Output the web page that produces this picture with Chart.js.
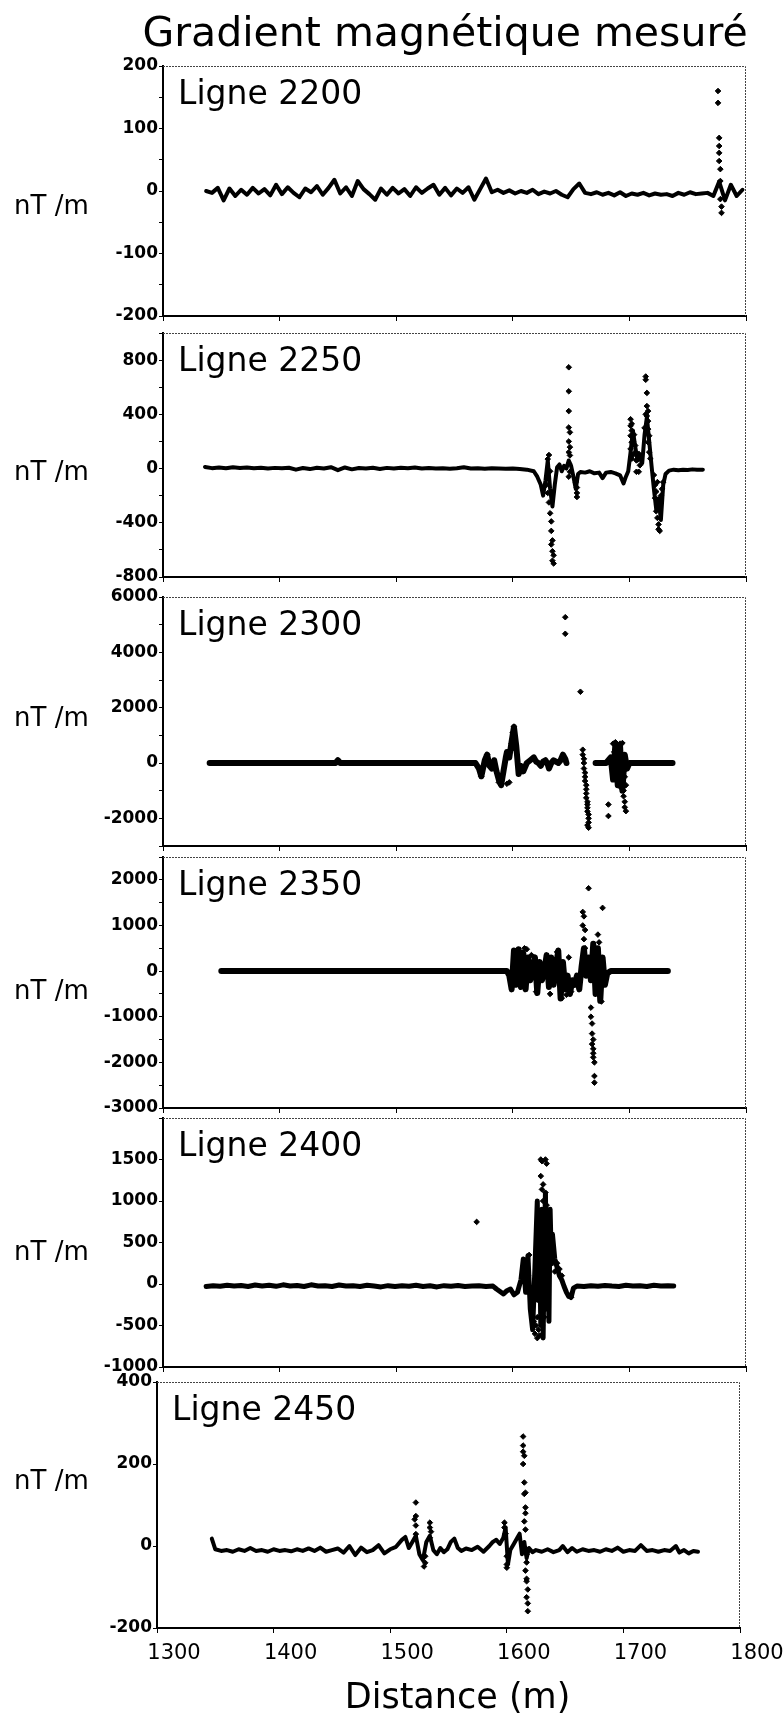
<!DOCTYPE html>
<html>
<head>
<meta charset="utf-8">
<script src="https://cdn.jsdelivr.net/npm/chart.js@4.4.0/dist/chart.umd.min.js"></script>
<style>
  body { margin: 0; background: #fff; width: 783px; height: 1718px; position: relative; overflow: hidden; }
  .panneau { position: absolute; left: 0; width: 783px; }
</style>
</head>
<body>
<script>
// textes
var titre = "Gradient magnétique mesuré";
var unite = "nT /m";
var titreX = "Distance (m)";
var lignes = ["Ligne 2200", "Ligne 2250", "Ligne 2300", "Ligne 2350", "Ligne 2400", "Ligne 2450"];

// axes
var xMin = 1300, xMax = 1800, xPas = 100;
var yMin = [-200, -800, -3000, -3000, -1000, -200];
var yMax = [200, 1000, 6000, 2500, 2000, 400];
var yPas = [50, 200, 1000, 500, 500, 200];
var yPasLabel = [100, 400, 2000, 1000, 500, 200];
var yLabelMax = [200, 800, 6000, 2000, 1500, 400];

// Ligne 2200 : trace + points isolés
var x2200 = [1337,1342,1347,1352,1357,1362,1367,1372,1377,1382,1387,1392,1397,1402,1407,1412,1417,1422,1427,1432,1437,1442,1447,1452,1457,1462,1467,1472,1477,1482,1487,1492,1497,1502,1507,1512,1517,1522,1527,1532,1537,1542,1547,1552,1557,1562,1567,1572,1577,1582,1587,1592,1597,1602,1607,1612,1617,1622,1627,1632,1637,1642,1647,1652,1657,1662,1667,1672,1677,1682,1687,1692,1697,1702,1707,1712,1717,1722,1727,1732,1737,1742,1747,1752,1757,1762,1767,1772,1777,1782,1787,1792,1797];
var y2200 = [0,-3,5,-15,4,-8,2,-6,5,-4,3,-7,10,-5,6,-3,-10,4,-2,8,-6,5,18,-4,6,-8,16,3,-5,-14,4,-6,5,-4,3,-8,6,-3,4,10,-6,5,-7,4,-3,6,-14,3,20,-2,2,-3,1,-4,0,-3,2,-5,-1,-4,0,-6,-10,3,12,-3,-5,-2,-6,-3,-7,-2,-8,-4,-6,-3,-7,-4,-6,-5,-8,-3,-6,-2,-5,-4,-3,-8,15,-15,10,-8,2];
var px2200 = [1776,1776,1777,1777,1777,1777,1778,1778,1778,1779,1779];
var py2200 = [160,141,85,72,61,48,35,16,-13,-25,-35];

// Ligne 2250
var x2250 = [1336,1342,1348,1354,1360,1366,1372,1378,1384,1390,1396,1402,1408,1414,1420,1426,1432,1438,1444,1450,1456,1462,1468,1474,1480,1486,1492,1498,1504,1510,1516,1522,1528,1534,1540,1546,1552,1558,1564,1570,1576,1582,1588,1594,1600,1606,1612,1618,
  1621,1624,1626,1628,1630,1632,1634,1636,1638,1640,1642,1644,1646,1648,1650,1652,1654,1656,1658,1662,1666,1670,1674,1677,1680,1684,1688,1692,1695,1697,1699,1701,1703,1705,1707,1709,1711,1713,1715,1717,1719,1721,1723,1725,1727,1729,1731,1734,1738,1742,1746,1750,1754,1758,1763];
var y2250 = [12,3,8,2,10,4,8,2,6,0,5,2,6,-8,4,-4,6,0,10,-12,8,-6,4,0,6,-3,5,0,6,2,8,0,4,0,2,-2,3,10,0,2,-2,2,0,-2,0,-4,-8,-20,
  -60,-120,-200,-90,60,-150,-280,-120,10,30,-20,20,0,60,20,-60,-150,-40,-25,-30,-20,-35,-30,-70,-30,-25,-35,-50,-110,-60,-20,120,280,160,60,100,40,250,380,200,20,-150,-300,-220,-380,-120,-40,-15,-8,-12,-8,-10,-6,-9,-8];
var px2250 = [1629,1630,1631,1631,1630,1632,1632,1633,1633,1634,1633,1634,1635,1634,1635,
  1648,1648,1648,1648,1649,1648,1649,1648,1649,1648,1649,1648,
  1654,1655,1655,1655,
  1701,1702,1701,1702,1701,1702,1701,1702,1703,1703,1704,1705,1705,1706,1706,1708,1709,1709,1708,
  1714,1714,1715,1715,1716,1715,1716,1717,1716,1717,1718,1713,1714,1716,
  1721,1722,1723,1722,1724,1723,1724,1725,1725,1726,1726,1727,1728,1729,1724];
var py2250 = [-120,-180,-250,100,70,-20,-330,-390,-460,-530,-560,-610,-640,-680,-700,
  747,570,424,303,267,200,158,120,97,36,-24,-60,
  -100,-140,-180,-210,
  364,330,315,280,242,194,145,73,100,200,250,170,121,60,-24,109,73,24,-24,
  679,655,558,461,424,388,291,242,194,121,73,300,400,350,
  -48,-121,-170,-218,-267,-315,-364,-412,-448,-460,-250,-200,-150,-100,-100];

// Ligne 2300
var x2300 = [1340,1360,1380,1400,1420,1440,1448,1450,1452,1470,1490,1510,1530,1550,1568,1571,1573,1576,1578,1580,1582,1584,1586,1588,1590,1592,1594,1595,1597,1599,1601,1603,1605,1607,1609,1612,1615,1618,1620,1622,1624,1626,1628,1630,1631,1633,1635,1637,1639,1641,1643,1645,1646,1658,1671,1675,1680,1684,1686,1688,1690,1692,1694,1696,1698,1700,1710,1720,1730,1737];
var y2300 = [0,0,0,0,0,0,0,100,0,0,0,0,0,0,0,-200,-480,100,300,-100,-200,100,-300,-600,-800,-300,200,400,200,780,1300,600,-400,-100,-300,0,100,200,50,0,-100,50,100,-50,-200,0,100,50,0,100,300,150,0,null,0,0,0,200,-600,700,-800,600,-1000,300,-200,0,0,0,0,0];
var px2300 = [1645,1645,1658,
  1660,1660,1661,1661,1661,1662,1662,1662,1663,1663,1663,1663,1664,1664,1664,1664,1665,1665,1665,1665,1664,
  1682,1682,
  1686,1688,1690,1692,1694,1687,1689,1691,1693,1695,1688,1690,1692,1694,1696,1691,1693,1695,1695,1696,1696,1697,1695,1697,
  1590,1588,1601,1600,1601,1599,1602,1578,1573,1597,1595];
var py2300 = [5270,4670,2575,
  480,300,150,0,-200,-350,-500,-650,-800,-950,-1100,-1260,-1400,-1500,-1620,-1750,-1860,-2000,-2150,-2340,-2250,
  -1500,-1916,
  700,750,650,700,720,400,300,400,350,250,-300,-500,-400,-600,-500,-800,-900,-1000,-1200,-1400,-1600,-1740,-300,-800,
  -800,-700,1317,1100,900,700,500,300,-480,-700,-750];

// Ligne 2350
var x2350 = [1350,1370,1390,1410,1430,1450,1470,1490,1510,1530,1550,1570,1590,1595,1597,1599,1601,1603,1605,1607,1609,1611,1613,1615,1617,1619,1621,1623,1625,1627,1629,1631,1633,1635,1637,1639,1641,1643,1645,1647,1649,1651,1653,1655,1657,1659,1661,1663,1665,1667,1669,1671,1673,1675,1677,1679,1681,1684,1690,1700,1710,1720,1733];
var y2350 = [0,0,0,0,0,0,0,0,0,0,0,0,0,0,-100,-400,450,-300,480,-350,400,-400,300,-200,100,300,-480,200,-200,0,350,-350,300,-300,100,450,-600,200,-400,-100,-500,-200,-300,-100,-400,100,500,-100,300,-200,600,-500,500,-650,300,-300,-50,0,0,0,0,0,0];
var px2350 = [1660,1661,1660,1662,1661,1662,1665,1667,1667,1668,1668,1669,1668,1669,1669,1669,1670,1670,1670,1677,1673,1674,1672,1676,1674,1604,1606,1610,1612,1616,1620,1632,1638,1642,1646,1650,1648];
var py2350 = [1296,1200,1000,900,700,500,1815,-800,-1000,-1150,-1370,-1500,-1600,-1704,-1800,-1889,-2000,-2300,-2444,1385,800,630,400,-667,-500,450,420,500,480,350,-450,-500,420,-593,-520,-450,300];

// Ligne 2400
var x2400 = [1337,1343,1349,1355,1361,1367,1373,1379,1385,1391,1397,1403,1409,1415,1421,1427,1433,1439,1445,1451,1457,1463,1469,1475,1481,1487,1493,1499,1505,1511,1517,1523,1529,1535,1541,1547,1553,1559,1565,1571,1577,1583,
  1586,1589,1592,1595,1598,1601,1604,1607,1609,1611,1613,1615,1617,1619,1621,1622,1623,1624,1625,1626,1627,1628,1629,1630,1631,1632,1633,1634,1636,1638,1640,1642,1644,1646,1648,1650,1652,1655,1661,1667,1673,1679,1685,1691,1697,1703,1709,1715,1721,1727,1733,1738];
var y2400 = [-30,-20,-28,-15,-25,-18,-30,-12,-25,-15,-28,-10,-25,-18,-30,-10,-25,-20,-30,-12,-25,-20,-30,-15,-25,-35,-20,-30,-22,-28,-15,-30,-22,-35,-20,-28,-18,-30,-25,-20,-30,-25,
  -60,-90,-120,-80,-60,-130,-100,50,300,-100,340,-300,-550,200,1000,-200,600,-500,900,-650,400,1100,-300,700,-450,900,300,600,300,200,100,50,-30,-100,-150,-160,-50,-25,-30,-20,-28,-18,-25,-30,-15,-25,-20,-30,-15,-25,-20,-25];
var px2400 = [1569,1624,1625,1628,1629,1624,1626,1625,1628,1626,1629,1627,1624,1630,1631,1626,1628,1630,1632,1625,1627,1633,1634,1622,1619,1620,1621,1618,1622,1623,1621,1625,1627,1628,1626,1614,1612,1613,1615,1636,1638,1640,1642,1650];
var py2400 = [748,1500,1480,1500,1450,1300,1200,1140,1100,1000,950,900,820,850,780,700,650,600,500,450,300,400,250,350,-600,-500,-400,-450,-550,-620,-652,-500,-400,-300,-200,350,250,100,-100,150,250,180,100,-160];

// Ligne 2450
var x2450 = [1347,1350,1355,1360,1365,1370,1375,1380,1385,1390,1395,1400,1405,1410,1415,1420,1425,1430,1435,1440,1445,1450,1455,1460,1465,1470,1475,1480,1485,1490,1495,1500,1505,1510,1513,1516,1519,1522,1525,1528,1531,1534,1537,1540,1543,1546,1549,1552,1555,1558,1561,1565,1570,1575,1580,1585,1588,1591,1594,1597,1599,1601,1603,1606,1609,1611,1613,1615,1617,1619,1622,1625,1630,1635,1640,1645,1648,1652,1656,1660,1665,1670,1675,1680,1685,1690,1695,1700,1705,1710,1715,1720,1725,1730,1735,1740,1745,1748,1752,1756,1760,1764];
var y2450 = [18,-8,-12,-10,-14,-8,-12,-5,-12,-10,-14,-8,-12,-10,-13,-8,-12,-6,-12,-4,-14,-10,-6,-16,0,-22,-4,-15,-10,2,-18,-8,-2,15,22,-5,10,25,-20,-35,10,25,-10,-20,-5,-15,-8,10,18,-5,-12,-6,-10,-2,-14,0,10,15,5,20,45,-45,-10,5,20,30,-20,10,-30,-5,-15,-10,-14,-8,-15,-10,0,-15,-5,-14,-8,-12,-10,-14,-8,-12,-4,-14,-10,-12,2,-12,-10,-14,-10,-12,0,-16,-10,-18,-12,-14];
var px2450 = [1522,1522,1521,1522,1522,1530,1530,1529,1534,1534,1535,1534,1598,1598,1599,1600,1600,1600,1614,1614,1614,1615,1614,1615,1616,1615,1616,1616,1615,1616,1617,1617,1616,1617,1617,1618,1617,1618,1618];
var py2450 = [106,73,65,50,29,-41,-25,-50,57,45,35,20,57,45,30,-25,-45,-53,267,245,230,220,200,155,130,127,94,80,60,40,-20,-40,-60,-80,-86,-106,-125,-140,-159];

var series = [
  [x2200, y2200, px2200, py2200],
  [x2250, y2250, px2250, py2250],
  [x2300, y2300, px2300, py2300],
  [x2350, y2350, px2350, py2350],
  [x2400, y2400, px2400, py2400],
  [x2450, y2450, px2450, py2450]
];

// mise en page (pixels de la page)
var cadres = [
  {top: 66,   bottom: 316,  left: 163, right: 746, uniteY: 207},
  {top: 333,  bottom: 577,  left: 163, right: 746, uniteY: 473},
  {top: 597,  bottom: 846,  left: 163, right: 746, uniteY: 719},
  {top: 857,  bottom: 1108, left: 163, right: 746, uniteY: 992},
  {top: 1118, bottom: 1367, left: 163, right: 746, uniteY: 1253},
  {top: 1382, bottom: 1628, left: 157, right: 740, uniteY: 1482}
];
var epaisseur = [4, 4, 6, 6, 5, 4];

Chart.defaults.font.family = '"DejaVu Sans", sans-serif';
Chart.defaults.color = '#000';

var textes = {
  id: 'textes',
  afterDraw: function (chart, args, opts) {
    var ctx = chart.ctx, a = chart.chartArea;
    ctx.save();
    // cadre haut et droit, trait fin
    ctx.strokeStyle = '#444';
    ctx.lineWidth = 1;
    ctx.setLineDash([2, 1]);
    ctx.beginPath();
    ctx.moveTo(a.left, a.top + 0.5);
    ctx.lineTo(a.right - 0.5, a.top + 0.5);
    ctx.lineTo(a.right - 0.5, a.bottom);
    ctx.stroke();
    ctx.setLineDash([]);
    ctx.fillStyle = '#000';
    ctx.textAlign = 'left';
    ctx.textBaseline = 'alphabetic';
    ctx.font = '33px "DejaVu Sans"';
    ctx.fillText(opts.ligne, a.left + 15, a.top + 38);
    ctx.font = '26px "DejaVu Sans"';
    ctx.textBaseline = 'middle';
    ctx.fillText(unite, 14, opts.uniteY);
    if (opts.titre) {
      ctx.font = '41px "DejaVu Sans"';
      ctx.textAlign = 'center';
      ctx.textBaseline = 'alphabetic';
      ctx.fillText(opts.titre, 445, 46);
    }
    if (opts.titreX) {
      ctx.font = '35px "DejaVu Sans"';
      ctx.textAlign = 'center';
      ctx.textBaseline = 'middle';
      ctx.fillText(opts.titreX, (a.left + a.right) / 2 + 9, a.bottom + 71);
    }
    ctx.restore();
  }
};

lignes.forEach(function (nom, i) {
  var c = cadres[i];
  var dernier = i === lignes.length - 1;
  var padTop = i === 0 ? c.top : 14;
  var haut = c.top - padTop;
  var axeX = dernier ? 1718 - c.bottom : 12;
  var h = padTop + (c.bottom - c.top) + axeX;

  var div = document.createElement('div');
  div.className = 'panneau';
  div.style.top = haut + 'px';
  div.style.height = h + 'px';
  var cv = document.createElement('canvas');
  cv.width = 783; cv.height = h;
  cv.style.width = '783px'; cv.style.height = h + 'px';
  div.appendChild(cv);
  document.body.appendChild(div);

  var s = series[i];
  var trace = s[0].map(function (x, k) { return {x: x, y: s[1][k]}; });
  var points = s[2].map(function (x, k) { return {x: x, y: s[3][k]}; });

  new Chart(cv, {
    type: 'scatter',
    data: {
      datasets: [
        {data: trace, showLine: true, borderColor: '#000', backgroundColor: '#000', borderWidth: epaisseur[i],
         borderJoinStyle: 'round', borderCapStyle: 'round', pointRadius: 0, tension: 0},
        {data: points, showLine: false, pointStyle: 'rectRot', pointRadius: 2.8, borderWidth: 1,
         borderColor: '#000', backgroundColor: '#000'}
      ]
    },
    options: {
      responsive: false,
      animation: false,
      events: [],
      layout: {padding: {top: padTop, right: 783 - c.right, left: 0, bottom: 0}},
      plugins: {
        legend: {display: false},
        tooltip: {enabled: false},
        textes: {ligne: nom, uniteY: c.uniteY - haut, titre: i === 0 ? titre : null, titreX: dernier ? titreX : null}
      },
      scales: {
        x: {
          type: 'linear', min: xMin, max: xMax,
          afterFit: function (sc) { sc.height = axeX; },
          border: {display: true, color: '#000', width: 2},
          grid: {display: true, drawOnChartArea: false, drawTicks: true, tickLength: 5, color: '#000'},
          ticks: {stepSize: xPas, autoSkip: false, maxRotation: 0, padding: 8, labelOffset: dernier ? 17 : 0,
                  font: {size: 21}, color: '#000',
                  callback: function (v) { return dernier ? String(v) : ''; }}
        },
        y: {
          min: yMin[i], max: yMax[i],
          afterFit: function (sc) { sc.width = c.left; },
          border: {display: true, color: '#000', width: 2},
          grid: {display: true, drawOnChartArea: false, drawTicks: true, tickLength: 4, color: '#000'},
          ticks: {stepSize: yPas[i], autoSkip: false, padding: 1, font: {size: 17, weight: 'bold'}, color: '#000',
                  callback: function (v) {
                    return (v % yPasLabel[i] === 0 && v <= yLabelMax[i]) ? String(v) : '';
                  }}
        }
      }
    },
    plugins: [textes]
  });
});
</script>
</body>
</html>
